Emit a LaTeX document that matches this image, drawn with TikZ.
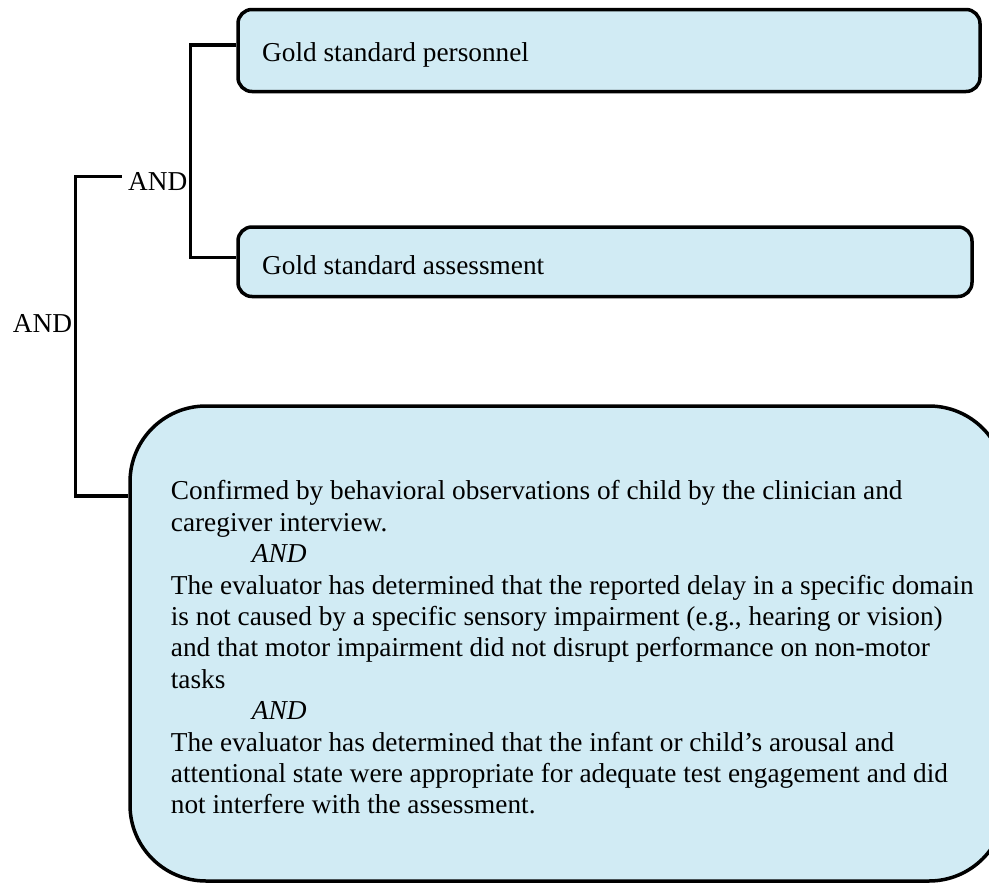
\documentclass[tikz,border=0pt]{standalone}
\usepackage{fontspec}
\setmainfont{Liberation Serif}
\newfontfamily\tnr{Liberation Serif}
\definecolor{boxblue}{RGB}{209,235,244}
\begin{document}
\begin{tikzpicture}[x=1pt,y=-1pt,
  box/.style={draw=black, line width=3.5pt, fill=boxblue, inner sep=0pt},
  conn/.style={draw=black, line width=3.4pt},
  txt/.style={inner sep=0pt, font=\tnr\fontsize{27.3}{31.4}\selectfont}]
\clip (0,0) rectangle (989,886);
\fill[white] (0,0) rectangle (989,886);
% boxes
\node[box, rounded corners=14pt, minimum width=742pt, minimum height=82pt] (box1) at (609,50.5) {};
\node[box, rounded corners=14pt, minimum width=734pt, minimum height=69.5pt] (box2) at (605,261.75) {};
\node[box, rounded corners=76pt, minimum width=875pt, minimum height=475pt] (big) at (567.5,643.5) {};
% texts
\node[txt, anchor=base west] (t1) at (262,61.7) {Gold standard personnel};
\node[txt, anchor=base west] (t2) at (262,274) {Gold standard assessment};
\node[txt, anchor=north west, align=left] (t3) at (170.7,480.5) {Confirmed by behavioral observations of child by the clinician and\\
caregiver interview.\\
\hspace*{81pt}\textit{AND}\\
The evaluator has determined that the reported delay in a specific domain\\
is not caused by a specific sensory impairment (e.g., hearing or vision)\\
and that motor impairment did not disrupt performance on non-motor\\
tasks\\
\hspace*{81pt}\textit{AND}\\
The evaluator has determined that the infant or child’s arousal and\\
attentional state were appropriate for adequate test engagement and did\\
not interfere with the assessment.};
% AND labels
\node[txt, anchor=base west] (and1) at (128,190) {AND};
\node[txt, anchor=base west] (and2) at (12.7,332.7) {AND};
% connectors
\draw[conn] ([yshift=5.5pt]box1.west) -| ([xshift=-46pt,yshift=4pt]box2.west) -- ([yshift=4pt]box2.west);
\draw[conn] ([xshift=-6.3pt,yshift=4.3pt]and1.west) -| ([xshift=-53pt,yshift=147.5pt]big.west) -- ([yshift=147.5pt]big.west);
\end{tikzpicture}
\end{document}
